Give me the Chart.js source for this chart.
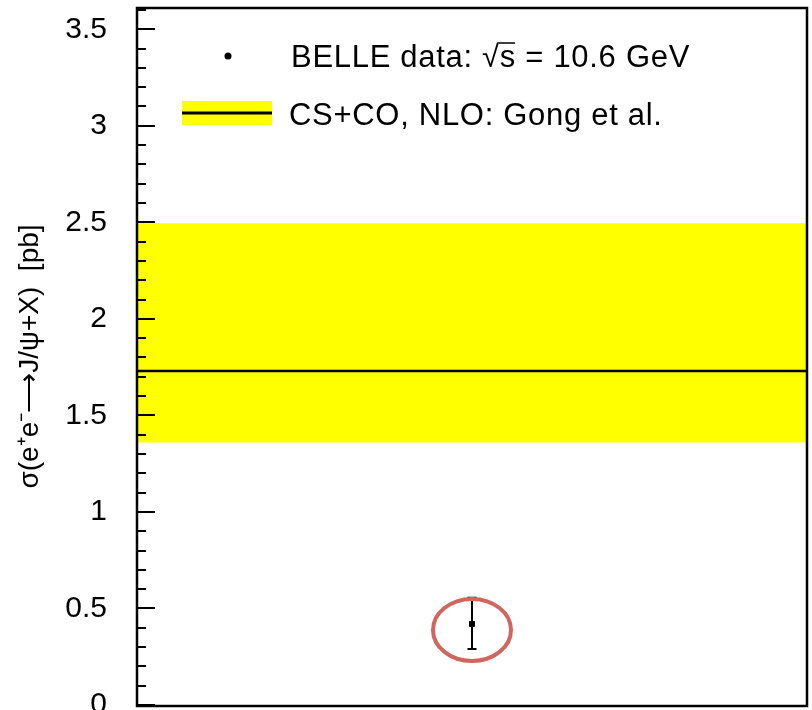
<!DOCTYPE html>
<html><head><meta charset="utf-8">
<script src="https://cdn.jsdelivr.net/npm/chart.js@4.4.0/dist/chart.umd.min.js"></script>
<style>html,body{margin:0;padding:0;background:#fff;}#wrap{width:812px;height:710px;position:relative;}</style>
</head><body><div id="wrap"><canvas id="c" width="812" height="710"></canvas></div>
<script>
// ---- data ----
const yMajorTicks = [0, 0.5, 1, 1.5, 2, 2.5, 3, 3.5];
const yTickLabels = ['0', '0.5', '1', '1.5', '2', '2.5', '3', '3.5'];
const yMinorTicks = [0.1,0.2,0.3,0.4,0.6,0.7,0.8,0.9,1.1,1.2,1.3,1.4,1.6,1.7,1.8,1.9,2.1,2.2,2.3,2.4,2.6,2.7,2.8,2.9,3.1,3.2,3.3,3.4,3.6];
const yMin = 0, yMax = 3.61;
const belleX = [0.5];
const belleY = [0.42];
const belleErrUp = [0.135];
const belleErrDown = [0.13];
const theoryX = [0, 1];
const theoryCentral = [1.73, 1.73];
const theoryHigh = [2.495, 2.495];
const theoryLow = 1.36;
const legendLabels = ['BELLE data:', 'CS+CO, NLO: Gong et al.'];
const yAxisTitle = 'σ(e⁺e⁻⟶J/ψ+X)  [pb]';

const FONT = '"Liberation Sans", Arial, Helvetica, sans-serif';

const framePlugin = {
  id: 'framePlugin',
  afterDraw(chart) {
    const ctx = chart.ctx, a = chart.chartArea, y = chart.scales.y, x = chart.scales.x;
    ctx.save();
    ctx.strokeStyle = '#000'; ctx.lineWidth = 2;
    belleX.forEach((xv, i) => {
      const px = x.getPixelForValue(xv);
      const pTop = y.getPixelForValue(belleY[i] + belleErrUp[i]);
      const pBot = y.getPixelForValue(belleY[i] - belleErrDown[i]);
      ctx.beginPath();
      ctx.moveTo(px, pTop); ctx.lineTo(px, pBot);
      ctx.moveTo(px - 4.5, pTop); ctx.lineTo(px + 4.5, pTop);
      ctx.moveTo(px - 4.5, pBot); ctx.lineTo(px + 4.5, pBot);
      ctx.stroke();
      const py = y.getPixelForValue(belleY[i]);
      ctx.save();
      ctx.strokeStyle = 'rgb(208,102,94)'; ctx.lineWidth = 4;
      ctx.beginPath();
      ctx.ellipse(px, py + 6, 39, 31, 0, 0, Math.PI * 2);
      ctx.stroke();
      ctx.restore();
    });
    ctx.strokeStyle = '#000'; ctx.lineWidth = 2;
    ctx.beginPath();
    yMajorTicks.forEach(v => { const p = Math.round(y.getPixelForValue(v)); ctx.moveTo(a.left, p); ctx.lineTo(a.left + 18, p); });
    yMinorTicks.forEach(v => { const p = Math.round(y.getPixelForValue(v)); ctx.moveTo(a.left, p); ctx.lineTo(a.left + 9, p); });
    ctx.stroke();
    ctx.lineWidth = 2.5;
    ctx.strokeRect(a.left, a.top, a.right - a.left, a.bottom - a.top + 1);
    // legend
    ctx.fillStyle = '#000';
    ctx.font = '31px ' + FONT;
    ctx.letterSpacing = '0.7px';
    ctx.textBaseline = 'alphabetic';
    ctx.textAlign = 'left';
    ctx.beginPath(); ctx.arc(228, 56, 3.5, 0, Math.PI * 2); ctx.fill();
    let tx = 291;
    const parts = [legendLabels[0] + ' ', '√', 's', ' = 10.6 GeV'];
    parts.forEach((s, k) => {
      ctx.fillText(s, tx, 67);
      const w = ctx.measureText(s).width;
      if (k === 2) {
        ctx.save(); ctx.lineWidth = 1.5; ctx.beginPath();
        ctx.moveTo(tx - 1, 43); ctx.lineTo(tx + w - 1, 43); ctx.stroke(); ctx.restore();
      }
      tx += w;
    });
    ctx.fillStyle = '#ffff00';
    ctx.fillRect(182, 101, 90, 24);
    ctx.strokeStyle = '#000'; ctx.lineWidth = 3;
    ctx.beginPath(); ctx.moveTo(182, 113); ctx.lineTo(272, 113); ctx.stroke();
    ctx.fillStyle = '#000';
    ctx.fillText(legendLabels[1], 289, 125);
    ctx.restore();
  }
};

new Chart(document.getElementById('c'), {
  type: 'scatter',
  data: {
    datasets: [
      { label: 'BELLE', data: belleX.map((v, i) => ({ x: v, y: belleY[i] })),
        pointStyle: 'rect', pointRadius: 3.5, backgroundColor: '#000', borderColor: '#000', order: 0 },
      { label: 'central', type: 'line', data: theoryX.map((v, i) => ({ x: v, y: theoryCentral[i] })),
        borderColor: '#000', borderWidth: 2.5, pointRadius: 0, fill: false, order: 1 },
      { label: 'band', type: 'line', data: theoryX.map((v, i) => ({ x: v, y: theoryHigh[i] })),
        borderWidth: 0, borderColor: 'rgba(0,0,0,0)', pointRadius: 0,
        backgroundColor: '#ffff00', fill: { value: theoryLow }, order: 2 }
    ]
  },
  options: {
    responsive: false, animation: false, devicePixelRatio: 1,
    layout: { padding: { top: 8, right: 2, bottom: 4, left: 0 } },
    plugins: { legend: { display: false }, tooltip: { enabled: false } },
    scales: {
      x: { type: 'linear', min: 0, max: 1, display: false },
      y: {
        type: 'linear', min: yMin, max: yMax,
        afterBuildTicks(s) { s.ticks = yMajorTicks.map(v => ({ value: v })); },
        afterFit(s) { s.width = 137; s.paddingTop = 0; s.paddingBottom = 0; },
        grid: { display: false, drawTicks: false },
        border: { display: false },
        ticks: {
          autoSkip: false, padding: 30, color: '#000',
          font: { family: FONT, size: 30 },
          callback(v) { const i = yMajorTicks.indexOf(v); return i >= 0 ? yTickLabels[i] : ''; }
        },
        title: { display: true, text: yAxisTitle, color: '#000',
          font: { family: FONT, size: 28 }, padding: { top: 13, bottom: 0 } }
      }
    }
  },
  plugins: [framePlugin]
});
</script>
</body></html>
